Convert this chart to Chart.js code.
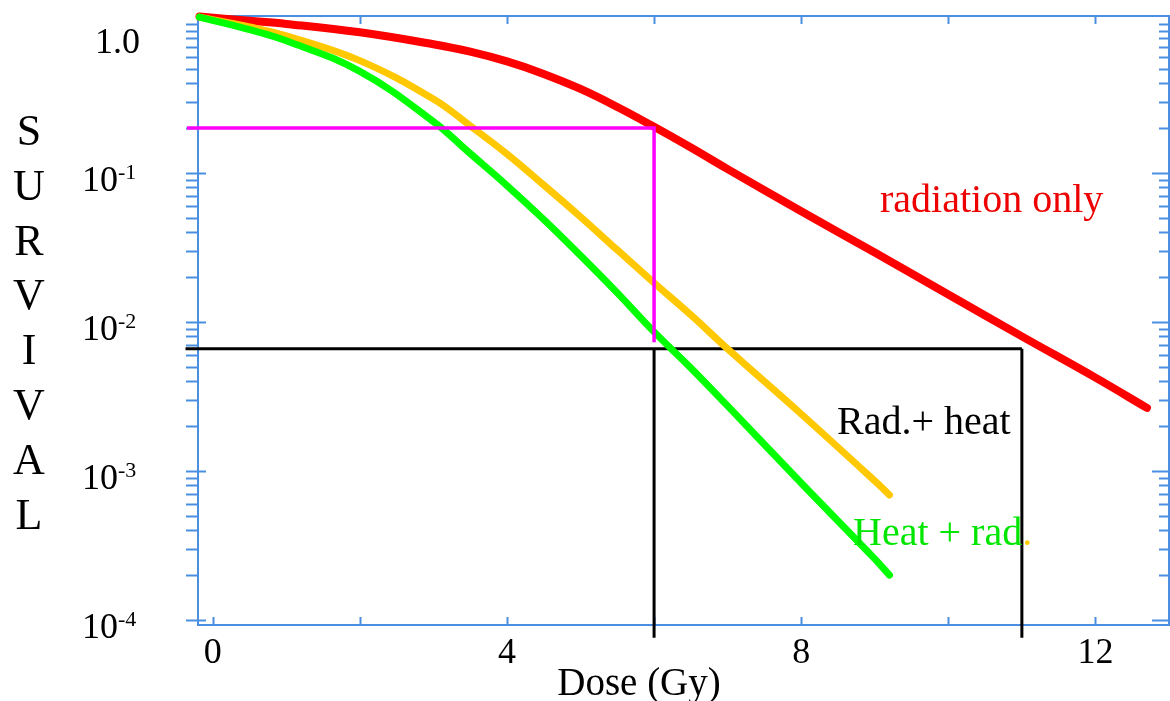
<!DOCTYPE html>
<html>
<head>
<meta charset="utf-8">
<script src="https://cdn.jsdelivr.net/npm/chart.js@4.4.1/dist/chart.umd.min.js"></script>
<style>
  html, body { margin: 0; padding: 0; background: #fff; }
  #wrap { width: 1170px; height: 701px; position: relative; }
</style>
</head>
<body>
<div id="wrap"><canvas id="survivalChart"></canvas></div>
<script>
// Dosis (Gy) y fracción superviviente
const dosesRad = [-0.18, 0.5, 1, 2, 3, 3.5, 4, 4.5, 5, 5.5, 6, 6.5, 7, 8, 9, 10, 11, 12, 12.7];
const survRadOnly = [1.12, 1.05, 1.0, 0.878, 0.730, 0.651, 0.560, 0.462, 0.366, 0.277, 0.204, 0.148,
                     0.106, 0.0553, 0.0292, 0.0153, 0.0080, 0.00423, 0.00265];

const dosesCombo = [-0.18, 0.5, 1, 2, 3, 3.5, 4, 4.5, 5, 5.5, 6, 6.5, 7, 8, 9, 9.2];
const survRadHeat = [1.11, 0.955, 0.832, 0.567, 0.313, 0.207, 0.134, 0.0830, 0.0507, 0.0304, 0.0183, 0.01114,
                     0.00659, 0.00241, 0.000857, 0.00069];
const survHeatRad = [1.11, 0.916, 0.771, 0.480, 0.221, 0.135, 0.0823, 0.0487, 0.0279, 0.01566, 0.00857, 0.00491,
                     0.00273, 0.00083, 0.000257, 0.0002];

// Líneas guía (magenta y negras)
const magentaDoses = [-0.35, 6, 6];
const magentaSurv = [0.2, 0.2, 0.0073];
const isoLevel = 0.0066;
const isoDoses = [6, 11];
const isoFloor = 7.6e-5;
const isoStart = -0.37;

// Ejes
const xTickMarks = [0, 2, 4, 6, 8, 10, 12];
const xTickLabels = [0, 4, 8, 12];
const yDecades = [1, 0.1, 0.01, 0.001, 0.0001];
const yExponents = ['', '-1', '-2', '-3', '-4'];
const yTitle = ['S', 'U', 'R', 'V', 'I', 'V', 'A', 'L'];

const AXIS_BLUE = '#4b8fe2';
const SERIF = '"Liberation Serif", "Times New Roman", serif';

const toPoints = (xs, ys) => xs.map((x, i) => ({ x: x, y: ys[i] }));

// Marco, marcas y textos
const axisFrame = {
    id: 'axisFrame',
    beforeDatasetsDraw(chart) {
        const { ctx, chartArea: a, scales: { x, y } } = chart;
        ctx.save();
        ctx.strokeStyle = AXIS_BLUE;
        ctx.lineWidth = 2;
        ctx.strokeRect(a.left, a.top, a.right - a.left, a.bottom - a.top);

        // marcas logarítmicas
        ctx.beginPath();
        yDecades.forEach(d => {
            for (let k = 1; k <= 9; k++) {
                const v = d * k;
                if (v < y.min || v > y.max) continue;
                const py = Math.round(y.getPixelForValue(v)) + 0.5;
                const major = k === 1 && d < 1;
                ctx.moveTo(a.left - 12, py);
                ctx.lineTo(major ? a.left + 8 : a.left, py);
                ctx.moveTo(a.right - (major ? 17 : 10), py);
                ctx.lineTo(a.right, py);
            }
        });
        xTickMarks.forEach(v => {
            const px = Math.round(x.getPixelForValue(v)) + 0.5;
            ctx.moveTo(px, a.bottom);
            ctx.lineTo(px, a.bottom - 8);
            ctx.moveTo(px, a.top);
            ctx.lineTo(px, a.top + 8);
        });
        ctx.stroke();
        ctx.restore();
    },
    afterDraw(chart) {
        const { ctx, scales: { x, y } } = chart;
        ctx.save();
        ctx.fillStyle = '#000';
        ctx.textBaseline = 'alphabetic';

        // etiquetas eje Y
        yDecades.forEach((d, i) => {
            const py = y.getPixelForValue(d);
            if (i === 0) {
                ctx.font = '36px ' + SERIF;
                ctx.textAlign = 'right';
                ctx.fillText('1.0', 140, py + 29);
                return;
            }
            ctx.font = '36px ' + SERIF;
            ctx.textAlign = 'left';
            ctx.fillText('10', 82, py + 18);
            const w = ctx.measureText('10').width;
            ctx.font = '22px ' + SERIF;
            ctx.fillText(yExponents[i], 82 + w, py + 6);
        });

        // etiquetas eje X
        ctx.font = '36px ' + SERIF;
        ctx.textAlign = 'center';
        xTickLabels.forEach(v => ctx.fillText(String(v), x.getPixelForValue(v), 663));

        ctx.font = '39px ' + SERIF;
        ctx.fillText('Dose (Gy)', 639, 695);

        // título vertical
        ctx.font = '44px ' + SERIF;
        yTitle.forEach((ch, i) => ctx.fillText(ch, 29, 145 + i * 54.8));

        // rótulos de curvas
        ctx.font = '40px ' + SERIF;
        ctx.textAlign = 'left';
        ctx.fillStyle = '#ee0000';
        ctx.fillText('radiation only', 880, 212);
        ctx.fillStyle = '#000';
        ctx.fillText('Rad.+ heat', 837, 434);
        ctx.fillStyle = '#00e600';
        ctx.fillText('Heat + rad', 853, 545);
        const hw = ctx.measureText('Heat + rad').width;
        ctx.fillStyle = '#ffcc00';
        ctx.fillText('.', 853 + hw, 545);
        ctx.restore();
    }
};

const curve = (data, color, width) => ({
    data: data,
    borderColor: color,
    borderWidth: width,
    tension: 0.4,
    borderCapStyle: 'round',
    borderJoinStyle: 'round',
    pointRadius: 0,
    fill: false,
    clip: false
});

const guide = (data, color, width) => ({
    data: data,
    borderColor: color,
    borderWidth: width,
    tension: 0,
    pointRadius: 0,
    fill: false,
    clip: false
});

window.onload = () => {
    const ctx = document.getElementById('survivalChart').getContext('2d');
    new Chart(ctx, {
        type: 'line',
        data: {
            datasets: [
                guide(toPoints(magentaDoses, magentaSurv), '#ff00ff', 3.5),
                curve(toPoints(dosesCombo, survHeatRad), '#00ff00', 7),
                curve(toPoints(dosesCombo, survRadHeat), '#ffc800', 7),
                curve(toPoints(dosesRad, survRadOnly), '#ff0000', 8),
                guide([{ x: isoStart, y: isoLevel }, { x: isoDoses[1], y: isoLevel }], '#000', 3),
                guide([{ x: isoDoses[0], y: isoLevel }, { x: isoDoses[0], y: isoFloor }], '#000', 3),
                guide([{ x: isoDoses[1], y: isoLevel }, { x: isoDoses[1], y: isoFloor }], '#000', 3)
            ]
        },
        options: {
            responsive: true,
            maintainAspectRatio: false,
            animation: false,
            layout: { padding: { left: 198, right: 1, top: 16, bottom: 76 } },
            plugins: { legend: { display: false }, tooltip: { enabled: false } },
            scales: {
                x: { type: 'linear', min: -0.2, max: 13, display: false },
                y: { type: 'logarithmic', min: 9.25e-5, max: 1.13, display: false }
            }
        },
        plugins: [axisFrame]
    });
};
</script>
</body>
</html>
